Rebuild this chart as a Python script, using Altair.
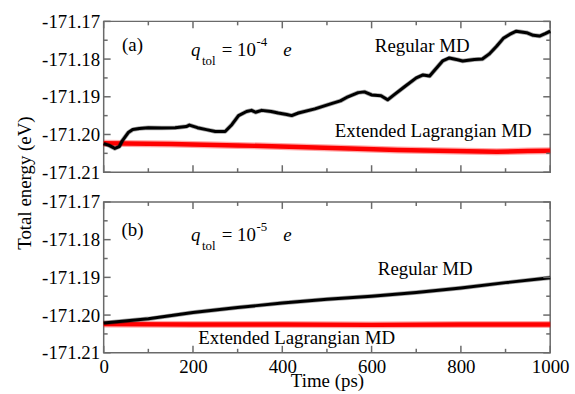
import altair as alt
import pandas as pd

FONT = "Liberation Serif, Times New Roman, serif"
FRAME = "#6a6a6a"

# ---------------- data ----------------
# Panel (a): q_tol = 10^-4 e
a_reg_time = [0, 12, 25, 35, 42, 55, 65, 80, 100, 130, 160, 185, 192, 210, 230, 250, 272,
              287, 302, 320, 331, 340, 354, 375, 391, 410, 421, 436, 473, 510, 530, 547,
              570, 584, 600, 621, 636, 650, 673, 700, 715, 730, 759, 774, 790, 804, 830,
              848, 863, 880, 895, 910, 924, 947, 962, 976, 990, 1000]
a_reg_energy = [-171.2024, -171.2029, -171.2037, -171.2032, -171.2016, -171.1995, -171.1987,
                -171.1984, -171.1982, -171.1983, -171.1982, -171.1979, -171.1975, -171.1982,
                -171.1987, -171.1992, -171.1992, -171.1974, -171.1950, -171.1939, -171.1936,
                -171.1941, -171.1936, -171.1939, -171.1943, -171.1947, -171.1950, -171.1943,
                -171.1932, -171.1918, -171.1911, -171.1900, -171.1889, -171.1887, -171.1895,
                -171.1897, -171.1908, -171.1895, -171.1874, -171.1850, -171.1842, -171.1845,
                -171.1805, -171.1797, -171.1801, -171.1805, -171.1801, -171.1800, -171.1787,
                -171.1766, -171.1745, -171.1734, -171.1726, -171.1730, -171.1737, -171.1739,
                -171.1732, -171.1726]
a_ext_time = [0, 150, 300, 436, 550, 658, 750, 880, 950, 1000]
a_ext_energy = [-171.2023, -171.2025, -171.2029, -171.2033, -171.2037, -171.2041,
                -171.2043, -171.2046, -171.2044, -171.2043]

# Panel (b): q_tol = 10^-5 e
b_reg_time = [0, 100, 200, 300, 400, 500, 600, 700, 800, 900, 1000]
b_reg_energy = [-171.2021, -171.2010, -171.1993, -171.1980, -171.1968, -171.1958,
                -171.1950, -171.1940, -171.1928, -171.1914, -171.1901]
b_ext_time = [0, 200, 400, 600, 800, 1000]
b_ext_energy = [-171.2024, -171.2025, -171.2025, -171.2026, -171.2025, -171.2025]

x_major = [0, 200, 400, 600, 800, 1000]
x_minor = [100, 300, 500, 700, 900]
y_major = [-171.21, -171.20, -171.19, -171.18, -171.17]
y_minor = [-171.205, -171.195, -171.185, -171.175]

# ---------------- layout ----------------
W, H = 450, 152
MAJ, MIN = 7, 4

x_scale = alt.Scale(domain=[0, 1000], nice=False, zero=False)
y_scale = alt.Scale(domain=[-171.21, -171.17], nice=False, zero=False)


def panel(reg_t, reg_e, ext_t, ext_e, tag, exponent, dy, reg_pos, ext_pos, bottom):
    if bottom:
        xaxis = alt.Axis(values=x_major, ticks=False, domain=False, grid=False, format="d",
                         labelPadding=5, labelFlush=False, title="Time (ps)",
                         titleY=34, titleBaseline="alphabetic")
    else:
        xaxis = None
    if bottom:
        yaxis = alt.Axis(values=y_major, ticks=False, domain=False, grid=False,
                         labelPadding=4, labelFlush=False,
                         labelExpr="'-' + format(abs(datum.value), '.2f')", title=None)
    else:
        yaxis = alt.Axis(values=y_major, ticks=False, domain=False, grid=False,
                         labelPadding=4, labelFlush=False,
                         labelExpr="'-' + format(abs(datum.value), '.2f')",
                         title="Total energy (eV)", titleX=-80, titleY=H + 10.5,
                         titleAngle=270, titleAlign="center", titleBaseline="middle")
    X = alt.X("t:Q", scale=x_scale, axis=xaxis)
    Y = alt.Y("E:Q", scale=y_scale, axis=yaxis)

    reg = pd.DataFrame({"t": reg_t, "E": reg_e})
    ext = pd.DataFrame({"t": ext_t, "E": ext_e})

    ext_halo = alt.Chart(ext).mark_line(color="#ff0000", strokeWidth=7, opacity=0.35,
                                         strokeJoin="round").encode(x=X, y=Y)
    ext_line = alt.Chart(ext).mark_line(color="#ff0000", strokeWidth=4.5,
                                         strokeJoin="round").encode(x=X, y=Y)
    reg_halo = alt.Chart(reg).mark_line(color="black", strokeWidth=4.5, opacity=0.35,
                                         strokeJoin="round").encode(x=X, y=Y)
    reg_line = alt.Chart(reg).mark_line(color="black", strokeWidth=3,
                                         strokeJoin="round").encode(x=X, y=Y)

    # inward ticks on all four sides
    xmaj = pd.DataFrame({"t": x_major})
    xmin = pd.DataFrame({"t": x_minor})
    ymaj = pd.DataFrame({"E": y_major})
    ymin = pd.DataFrame({"E": y_minor})
    tk = dict(color=FRAME, strokeWidth=1.5)
    ticks = [
        alt.Chart(xmaj).mark_rule(**tk).encode(x=X, y=alt.value(H), y2=alt.value(H - MAJ)),
        alt.Chart(xmaj).mark_rule(**tk).encode(x=X, y=alt.value(0), y2=alt.value(MAJ)),
        alt.Chart(xmin).mark_rule(**tk).encode(x=X, y=alt.value(H), y2=alt.value(H - MIN)),
        alt.Chart(xmin).mark_rule(**tk).encode(x=X, y=alt.value(0), y2=alt.value(MIN)),
        alt.Chart(ymaj).mark_rule(**tk).encode(y=Y, x=alt.value(0), x2=alt.value(MAJ)),
        alt.Chart(ymaj).mark_rule(**tk).encode(y=Y, x=alt.value(W), x2=alt.value(W - MAJ)),
        alt.Chart(ymin).mark_rule(**tk).encode(y=Y, x=alt.value(0), x2=alt.value(MIN)),
        alt.Chart(ymin).mark_rule(**tk).encode(y=Y, x=alt.value(W), x2=alt.value(W - MIN)),
    ]

    # annotations (positions in data coordinates)
    labels = pd.DataFrame({
        "t": [64.4, reg_pos[0], ext_pos[0]],
        "E": [-171.17632 - dy, reg_pos[1], ext_pos[1]],
        "txt": [tag, "Regular MD", "Extended Lagrangian MD"],
    })
    lab = alt.Chart(labels).mark_text(font=FONT, fontSize=19, color="black",
                                      align="center", baseline="middle").encode(
        x=X, y=Y, text="txt:N")
    ital = pd.DataFrame({"t": [195.6, 402.0], "E": [-171.17921 - dy] * 2, "txt": ["q", "e"]})
    lab_it = alt.Chart(ital).mark_text(font=FONT, fontSize=19, fontStyle="italic",
                                       color="black", align="left",
                                       baseline="alphabetic").encode(x=X, y=Y, text="txt:N")
    eq = pd.DataFrame({"t": [264.4], "E": [-171.17921 - dy], "txt": ["= 10"]})
    lab_eq = alt.Chart(eq).mark_text(font=FONT, fontSize=19, color="black", align="left",
                                     baseline="alphabetic").encode(x=X, y=Y, text="txt:N")
    small = pd.DataFrame({"t": [220.0, 342.0],
                          "E": [-171.18158 - dy, -171.17658 - dy],
                          "txt": ["tol", exponent]})
    lab_sm = alt.Chart(small).mark_text(font=FONT, fontSize=13, color="black", align="left",
                                        baseline="alphabetic").encode(x=X, y=Y, text="txt:N")

    return alt.layer(ext_halo, ext_line, reg_halo, reg_line, *ticks,
                     lab, lab_it, lab_eq, lab_sm).properties(width=W, height=H)


top = panel(a_reg_time, a_reg_energy, a_ext_time, a_ext_energy, "(a)", "-4", 0.0,
            (713.3, -171.17658), (737.8, -171.19921), False)
bottom = panel(b_reg_time, b_reg_energy, b_ext_time, b_ext_energy, "(b)", "-5", 0.00105,
               (720.0, -171.18789), (432.2, -171.20605), True)

chart = alt.vconcat(top, bottom, spacing=30, bounds="flush").properties(
    padding={"left": 14.5, "top": 10, "right": 5, "bottom": 0}
).configure_view(
    stroke=FRAME, strokeWidth=1.5
).configure_axis(
    labelFont=FONT, labelFontSize=19, labelColor="black",
    titleFont=FONT, titleFontSize=19, titleColor="black", titleFontWeight="normal",
)

chart.save("out.html", embed_options={"renderer": "svg", "actions": False})
